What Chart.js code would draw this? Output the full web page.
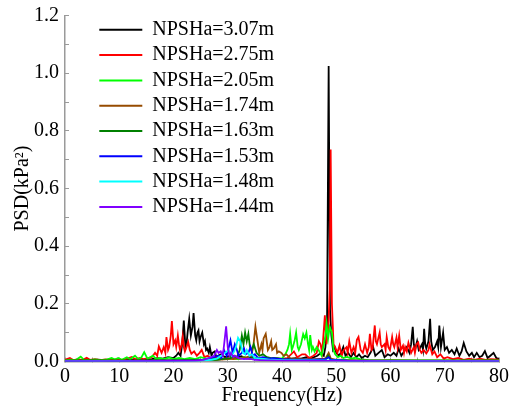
<!DOCTYPE html>
<html>
<head>
<meta charset="utf-8">
<script src="https://cdn.jsdelivr.net/npm/chart.js@4"></script>
<style>
  html, body { margin: 0; padding: 0; background: #fff; }
  canvas { display: block; }
</style>
</head>
<body>
<canvas id="c" width="515" height="410"></canvas>
<script>
// ---- Data (frequency Hz, PSD kPa^2) ----
const seriesLabels = ['NPSHa=3.07m','NPSHa=2.75m','NPSHa=2.05m','NPSHa=1.74m','NPSHa=1.63m','NPSHa=1.53m','NPSHa=1.48m','NPSHa=1.44m'];
const seriesColors = ['#000000','#ff0000','#00ff00','#964b00','#008000','#0000ff','#00ffff','#8000ff'];

const s307 = [[0,0.004],[2,0.005],[4,0.004],[6,0.006],[8,0.004],[10,0.005],[12,0.006],[14,0.005],[16,0.008],[17,0.012],[18,0.01],[19,0.015],[20,0.012],[20.5,0.02],[20.9,0.03],[21.3,0.02],[21.6,0.06],[21.9,0.142],[22.2,0.05],[22.4,0.06],[22.6,0.1],[22.9,0.148],[23.2,0.09],[23.5,0.12],[23.7,0.168],[24.0,0.09],[24.2,0.073],[24.4,0.1],[24.6,0.108],[24.8,0.07],[25.0,0.085],[25.3,0.1],[25.6,0.06],[25.8,0.07],[26.0,0.04],[26.2,0.045],[26.5,0.03],[26.7,0.05],[27.0,0.02],[27.2,0.03],[27.6,0.035],[27.9,0.015],[28.2,0.02],[28.8,0.025],[29.5,0.015],[30.5,0.02],[31.5,0.012],[32.5,0.018],[33.5,0.01],[34.5,0.015],[35.5,0.01],[36.5,0.012],[37.5,0.008],[38.5,0.012],[39.5,0.008],[40.5,0.01],[41.5,0.008],[42.5,0.012],[43.5,0.01],[44.5,0.015],[45.5,0.012],[46.5,0.02],[47.2,0.03],[47.7,0.02],[48.0,0.05],[48.3,0.12],[48.6,1.025],[48.85,0.18],[49.1,0.09],[49.4,0.04],[49.7,0.05],[50.0,0.03],[50.5,0.02],[51.0,0.035],[51.3,0.05],[51.7,0.02],[52.2,0.03],[52.7,0.015],[53.2,0.03],[53.7,0.015],[54.2,0.025],[54.7,0.012],[55.3,0.02],[55.8,0.015],[56.3,0.03],[56.8,0.05],[57.2,0.02],[57.8,0.03],[58.4,0.04],[58.9,0.015],[59.5,0.025],[60.0,0.02],[60.6,0.03],[61.1,0.02],[61.5,0.045],[62.0,0.02],[62.5,0.035],[63.0,0.05],[63.5,0.03],[63.8,0.06],[64.1,0.12],[64.3,0.06],[64.5,0.04],[64.9,0.07],[65.2,0.04],[65.4,0.045],[65.8,0.06],[66.0,0.04],[66.2,0.113],[66.4,0.06],[66.6,0.045],[67.0,0.07],[67.3,0.148],[67.5,0.07],[67.8,0.04],[68.2,0.05],[68.6,0.07],[68.8,0.05],[69.0,0.125],[69.3,0.05],[69.7,0.1],[70.0,0.04],[70.4,0.05],[70.8,0.03],[71.3,0.04],[71.8,0.025],[72.2,0.045],[72.7,0.02],[73.1,0.035],[73.5,0.064],[74.0,0.035],[74.5,0.02],[75.0,0.03],[75.4,0.015],[75.9,0.03],[76.4,0.015],[76.9,0.02],[77.4,0.036],[77.9,0.012],[78.4,0.02],[79.0,0.03],[79.5,0.012],[80,0.01]];

const s275 = [[0,0.006],[0.9,0.012],[1.5,0.005],[2.5,0.008],[3.2,0.005],[4.0,0.013],[4.6,0.006],[5.5,0.008],[6.5,0.005],[7.5,0.007],[8.5,0.005],[9.5,0.008],[10.5,0.006],[11.5,0.01],[12.3,0.016],[13,0.008],[13.8,0.012],[14.5,0.008],[15.3,0.012],[16.0,0.015],[16.6,0.03],[17.0,0.02],[17.3,0.052],[17.8,0.03],[18.2,0.05],[18.5,0.03],[18.7,0.085],[19.0,0.04],[19.2,0.05],[19.5,0.09],[19.7,0.14],[20.0,0.06],[20.3,0.073],[20.5,0.05],[20.8,0.09],[21.0,0.06],[21.2,0.04],[21.5,0.06],[21.7,0.087],[21.9,0.05],[22.1,0.035],[22.4,0.05],[22.7,0.068],[23.0,0.04],[23.3,0.027],[23.8,0.035],[24.3,0.02],[24.8,0.03],[25.2,0.04],[25.7,0.015],[26.3,0.02],[27,0.01],[28,0.015],[29,0.008],[30,0.012],[31,0.008],[32,0.01],[33,0.015],[34,0.008],[35,0.01],[36,0.007],[37,0.01],[38,0.008],[39,0.012],[40,0.008],[41,0.012],[42.2,0.035],[42.8,0.015],[43.7,0.025],[44.3,0.025],[45,0.012],[45.8,0.02],[46.4,0.03],[46.8,0.07],[47.1,0.06],[47.4,0.03],[47.9,0.16],[48.2,0.06],[48.5,0.1],[48.8,0.25],[48.97,0.735],[49.2,0.2],[49.5,0.06],[49.8,0.05],[50.2,0.03],[50.6,0.055],[51.0,0.02],[51.4,0.04],[51.9,0.05],[52.1,0.03],[52.4,0.07],[52.8,0.03],[53.2,0.05],[53.5,0.03],[53.8,0.075],[54.1,0.085],[54.5,0.04],[54.9,0.03],[55.3,0.06],[55.7,0.03],[56.0,0.05],[56.2,0.096],[56.5,0.04],[56.7,0.045],[57.1,0.125],[57.3,0.07],[57.5,0.06],[58.0,0.1],[58.2,0.06],[58.4,0.05],[58.9,0.06],[59.1,0.04],[59.3,0.085],[59.6,0.05],[59.9,0.04],[60.3,0.085],[60.5,0.06],[60.7,0.05],[61.1,0.083],[61.3,0.05],[61.6,0.09],[61.9,0.04],[62.3,0.055],[62.5,0.03],[62.7,0.05],[63.0,0.035],[63.3,0.065],[63.8,0.03],[64.3,0.05],[64.5,0.03],[64.8,0.06],[65.1,0.066],[65.4,0.04],[65.7,0.03],[66.1,0.04],[66.6,0.028],[67.0,0.04],[67.2,0.06],[67.7,0.025],[68.1,0.035],[68.6,0.015],[69.2,0.025],[69.8,0.01],[70.5,0.015],[71.5,0.008],[72.5,0.012],[73.5,0.006],[74.5,0.01],[75.5,0.006],[76.5,0.01],[77.5,0.006],[78.5,0.008],[80,0.006]];

const s205 = [[0,0.004],[1,0.006],[2,0.005],[2.9,0.017],[3.5,0.006],[4.5,0.005],[5.5,0.007],[6.5,0.005],[7.5,0.006],[8.6,0.012],[9.2,0.007],[9.8,0.012],[10.5,0.006],[11.4,0.015],[12,0.008],[12.9,0.02],[13.5,0.008],[14.1,0.015],[14.6,0.032],[15.2,0.01],[15.7,0.015],[16.2,0.02],[16.8,0.008],[17.5,0.012],[18.2,0.008],[19.2,0.014],[20,0.008],[21,0.012],[22,0.008],[23,0.012],[24,0.008],[25,0.015],[26,0.01],[27,0.012],[28,0.008],[29,0.01],[30,0.008],[31,0.012],[32,0.008],[33,0.015],[34,0.01],[35,0.012],[36,0.008],[37,0.015],[38,0.01],[39,0.012],[40,0.01],[40.6,0.025],[41.0,0.04],[41.3,0.06],[41.5,0.096],[41.8,0.04],[42.0,0.05],[42.3,0.07],[42.6,0.1],[42.9,0.05],[43.1,0.04],[43.5,0.06],[43.9,0.095],[44.2,0.08],[44.5,0.1],[44.8,0.06],[45.0,0.04],[45.2,0.092],[45.5,0.04],[45.7,0.05],[46.0,0.035],[46.4,0.05],[46.9,0.035],[47.3,0.02],[47.7,0.06],[48.0,0.09],[48.2,0.13],[48.5,0.08],[48.8,0.12],[49.2,0.1],[49.5,0.04],[49.8,0.025],[50.3,0.015],[50.8,0.02],[51.3,0.012],[52,0.016],[52.8,0.01],[53.5,0.013],[54.5,0.007],[56,0.005],[58,0.004],[60,0.005],[65,0.004],[70,0.004],[75,0.004],[80,0.004]];

const s174 = [[0,0.003],[5,0.004],[10,0.003],[15,0.004],[20,0.004],[25,0.005],[28,0.006],[30,0.008],[31.5,0.012],[32.5,0.01],[33.5,0.015],[34.3,0.02],[34.7,0.05],[35.1,0.12],[35.5,0.07],[35.8,0.03],[36.2,0.06],[36.4,0.04],[36.6,0.08],[37.0,0.096],[37.4,0.04],[37.7,0.05],[38.0,0.07],[38.2,0.04],[38.5,0.045],[38.9,0.06],[39.1,0.03],[39.4,0.035],[39.9,0.03],[40.3,0.02],[40.8,0.025],[41.5,0.012],[42.5,0.01],[44,0.008],[46,0.008],[48,0.01],[48.6,0.03],[49,0.01],[50,0.006],[55,0.004],[60,0.004],[65,0.003],[70,0.003],[75,0.003],[80,0.003]];

const s163 = [[0,0.003],[5,0.004],[10,0.003],[15,0.004],[20,0.004],[25,0.005],[28,0.006],[29.5,0.01],[30.5,0.012],[31.2,0.02],[31.7,0.015],[32.2,0.04],[32.6,0.09],[32.9,0.06],[33.2,0.1],[33.5,0.07],[33.8,0.096],[34.1,0.05],[34.4,0.04],[34.8,0.06],[35.3,0.03],[35.8,0.02],[36.5,0.025],[37.2,0.015],[38,0.012],[39,0.01],[40,0.008],[42,0.006],[44,0.006],[46,0.005],[48,0.006],[48.5,0.02],[49,0.006],[52,0.004],[60,0.003],[70,0.003],[80,0.003]];

const s153 = [[0,0.002],[10,0.002],[20,0.003],[25,0.004],[26.5,0.01],[27.5,0.015],[28.3,0.02],[28.8,0.012],[29.3,0.04],[29.8,0.02],[30.5,0.073],[30.9,0.03],[31.3,0.06],[31.6,0.045],[32.0,0.02],[32.6,0.03],[33.0,0.045],[33.3,0.025],[33.8,0.03],[34.2,0.05],[34.6,0.02],[35.0,0.025],[35.6,0.012],[36.5,0.015],[37.5,0.01],[38.5,0.012],[40,0.008],[42,0.006],[44,0.006],[46,0.006],[48,0.008],[48.6,0.015],[49,0.006],[52,0.003],[60,0.002],[70,0.002],[80,0.002]];

const s148 = [[0,0.002],[10,0.002],[20,0.002],[25,0.003],[27,0.006],[28,0.01],[28.8,0.02],[29.5,0.03],[30.2,0.04],[30.7,0.02],[31.2,0.035],[31.5,0.05],[31.9,0.082],[32.3,0.07],[32.8,0.03],[33.2,0.025],[33.5,0.04],[34.0,0.02],[34.5,0.025],[35,0.012],[36,0.01],[37,0.008],[38,0.006],[40,0.005],[45,0.004],[50,0.003],[60,0.002],[70,0.002],[80,0.002]];

const s144 = [[0,0.001],[10,0.001],[20,0.002],[24,0.003],[25.5,0.006],[26.5,0.012],[27.5,0.02],[28.0,0.04],[28.3,0.03],[28.7,0.035],[29.1,0.02],[29.7,0.122],[30.0,0.05],[30.3,0.02],[30.6,0.03],[31.0,0.015],[31.3,0.02],[32,0.012],[33,0.008],[34,0.01],[35,0.006],[36,0.005],[38,0.004],[40,0.003],[50,0.002],[60,0.001],[70,0.001],[80,0.001]];

const seriesData = [s307, s275, s205, s174, s163, s153, s148, s144];

const xTicks = [0,5,10,15,20,25,30,35,40,45,50,55,60,65,70,75,80];
const yTicks = [0,0.1,0.2,0.3,0.4,0.5,0.6,0.7,0.8,0.9,1.0,1.1,1.2];

// ---- Chart ----
const FONT = '"Liberation Serif", "Times New Roman", serif';
Chart.defaults.font.family = FONT;
Chart.defaults.font.size = 20;
Chart.defaults.color = '#000';

const datasets = seriesData.map((d, i) => ({
  label: seriesLabels[i],
  data: d,
  borderColor: seriesColors[i],
  backgroundColor: seriesColors[i],
  borderWidth: 1.8,
  pointRadius: 0,
  tension: 0,
  fill: false,
  order: -i
}));

const legendMover = {
  id: 'legendMover',
  afterLayout(chart) {
    const lg = chart.legend;
    if (!lg) return;
    lg.left = 94; lg.right = 94 + lg.width;
    lg.top = 14.5; lg.bottom = 14.5 + 330;
  }
};

const axisGray = '#9a9a9a';

new Chart(document.getElementById('c'), {
  type: 'line',
  data: { datasets },
  plugins: [legendMover],
  options: {
    responsive: false,
    animation: false,
    devicePixelRatio: 1,
    layout: { padding: { top: 15.5, right: 16, left: 0, bottom: 0 } },
    plugins: {
      tooltip: { enabled: false },
      legend: {
        position: 'chartArea',
        align: 'start',
        labels: {
          boxWidth: 43,
          boxHeight: 2,
          padding: 5.3,
          color: '#000',
          font: { family: FONT, size: 20 },
          generateLabels(chart) {
            return chart.data.datasets.map((ds, i) => ({
              text: ds.label,
              fillStyle: ds.borderColor,
              strokeStyle: ds.borderColor,
              lineWidth: 0,
              hidden: false,
              fontColor: '#000',
              datasetIndex: i
            }));
          }
        }
      }
    },
    scales: {
      x: {
        type: 'linear',
        min: 0, max: 80,
        afterBuildTicks(scale) { scale.ticks = xTicks.map(v => ({ value: v })); },
        afterFit(scale) { scale.height = 48.5; scale.paddingLeft = 0; scale.paddingRight = 0; },
        ticks: {
          autoSkip: false,
          maxRotation: 0,
          padding: 7,
          color: '#000',
          font: { family: FONT, size: 20 },
          callback: (v) => (v % 10 === 0 ? String(v) : '')
        },
        grid: { display: true, drawOnChartArea: false, drawTicks: true, tickLength: -4, color: axisGray, tickWidth: 1 },
        border: { display: true, color: axisGray, width: 1.5 },
        title: { display: true, text: 'Frequency(Hz)', color: '#000', font: { family: FONT, size: 20 }, padding: { top: 0, bottom: 2 } }
      },
      y: {
        type: 'linear',
        min: 0, max: 1.2,
        afterBuildTicks(scale) { scale.ticks = yTicks.map(v => ({ value: v })); },
        afterFit(scale) { scale.width = 65; scale.paddingTop = 0; scale.paddingBottom = 0; },
        ticks: {
          autoSkip: false,
          padding: 10,
          color: '#000',
          font: { family: FONT, size: 20 },
          callback: (v) => (Math.round(v * 10) % 2 === 0 ? v.toFixed(1) : '')
        },
        grid: { display: true, drawOnChartArea: false, drawTicks: true, tickLength: -4, color: axisGray, tickWidth: 1 },
        border: { display: true, color: axisGray, width: 1.5 },
        title: { display: true, text: 'PSD(kPa²)', color: '#000', font: { family: FONT, size: 20 }, padding: { top: 11, bottom: 0 } }
      }
    }
  }
});
</script>
</body>
</html>
